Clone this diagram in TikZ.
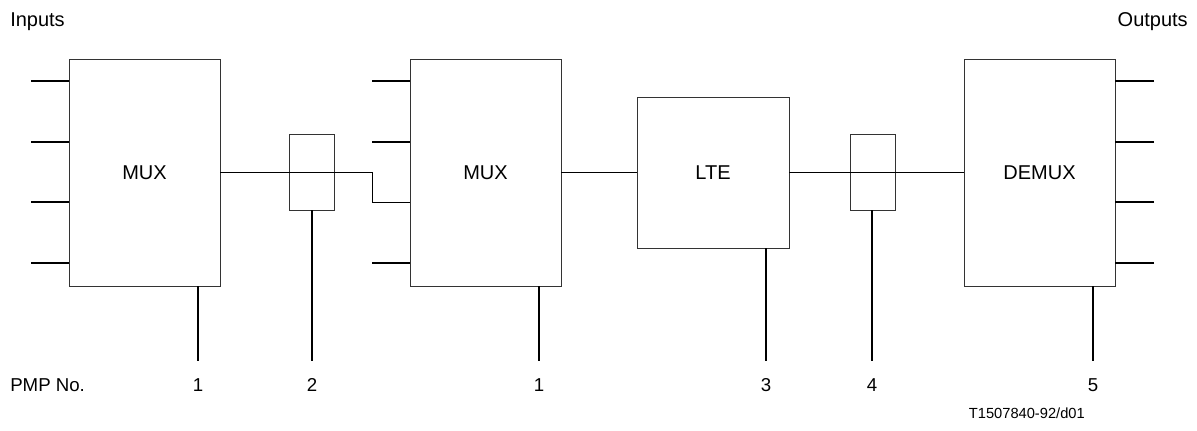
\documentclass[tikz,border=0pt]{standalone}
\usepackage{fontspec}
\setmainfont{Liberation Sans}
\begin{document}
\begin{tikzpicture}[x=0.75pt,y=-0.75pt,
  blk/.style={draw=black!80,line width=0.6pt,inner sep=0pt,font=\fontsize{15}{17}\selectfont},
  smallbox/.style={draw=black!80,line width=0.6pt,inner sep=0pt,minimum width=33.75pt,minimum height=57pt},
  wire/.style={line width=1.1pt,black},
  thinwire/.style={line width=0.7pt,black},
  lbl/.style={inner sep=0pt,font=\fontsize{15}{17}\selectfont},
  num/.style={inner sep=0pt,font=\fontsize{14}{16}\selectfont},
  note/.style={inner sep=0pt,font=\fontsize{11}{13}\selectfont}]
\useasboundingbox (0,0) rectangle (1197,430);
% blocks
\node[blk,minimum width=113.25pt,minimum height=170.25pt] (mux1) at (144.5,172.5) {MUX};
\node[blk,minimum width=113.25pt,minimum height=170.25pt] (mux2) at (485.5,172.5) {MUX};
\node[blk,minimum width=114pt,minimum height=113.25pt] (lte) at (713,172.5) {LTE};
\node[blk,minimum width=113.25pt,minimum height=170.25pt] (demux) at (1039.5,172.5) {DEMUX};
\node[smallbox] (sb1) at (311.5,172) {};
\node[smallbox] (sb2) at (872.5,172) {};
% labels
\node[lbl,anchor=west] (inputs) at (10,22) {Inputs};
\node[lbl,anchor=east] (outputs) at (1188,22) {Outputs};
\node[num,anchor=west] (pmp) at (10,385) {PMP No.};
\node[num] (n1) at (198,385) {1};
\node[num] (n2) at (312,385) {2};
\node[num] (n3) at (539,385) {1};
\node[num] (n4) at (766,385) {3};
\node[num] (n5) at (872,385) {4};
\node[num] (n6) at (1093,385) {5};
\node[note,anchor=east] (ref) at (1085,413) {T1507840-92/d01};
% input / output coordinates
\foreach \y [count=\i] in {81,142,202,263}{
  \coordinate (ia\i) at (31,\y);
  \coordinate (oa\i) at (1154,\y);
  \draw[wire] (ia\i) -- (mux1.west |- ia\i);
  \draw[wire] (oa\i) -- (demux.east |- oa\i);
}
\foreach \y [count=\i] in {81,142,263}{
  \coordinate (ib\i) at (372,\y);
  \draw[wire] (ib\i) -- (mux2.west |- ib\i);
}
% main chain
\coordinate (jog) at (372,172);
\coordinate (jogb) at (372,202);
\draw[thinwire] (mux1.east |- jog) -- (jog) -- (jogb) -- (mux2.west |- jogb);
\draw[wire] (mux2.east) -- (lte.west);
\draw[wire] (lte.east) -- (demux.west);
% stems
\coordinate (s1) at (198,361);
\coordinate (s2) at (312,361);
\coordinate (s3) at (539,361);
\coordinate (s4) at (766,361);
\coordinate (s5) at (872,361);
\coordinate (s6) at (1093,361);
\draw[wire] (mux1.south -| s1) -- (s1);
\draw[wire] (sb1.south -| s2) -- (s2);
\draw[wire] (mux2.south -| s3) -- (s3);
\draw[wire] (lte.south -| s4) -- (s4);
\draw[wire] (sb2.south -| s5) -- (s5);
\draw[wire] (demux.south -| s6) -- (s6);
\end{tikzpicture}
\end{document}
